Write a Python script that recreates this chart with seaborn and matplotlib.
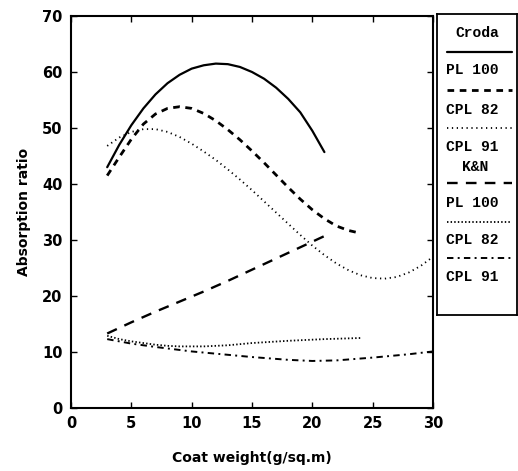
import numpy as np
import pandas as pd
import matplotlib
matplotlib.use("Agg")
import matplotlib.pyplot as plt
import seaborn as sns

# ---- data ----
croda_pl100_x = [3, 4, 5, 6, 7, 8, 9, 10, 11, 12, 13, 14, 15, 16, 17, 18, 19, 20, 21]
croda_pl100_y = [43.0, 47.0, 50.5, 53.5, 56.0, 58.0, 59.5, 60.6, 61.2, 61.5, 61.4, 60.9,
                 60.0, 58.8, 57.2, 55.2, 52.8, 49.5, 45.7]

croda_cpl82_x = [3, 4, 5, 6, 7, 8, 9, 10, 11, 12, 13, 14, 15, 16, 17, 18, 19, 20, 21, 22, 23, 24]
croda_cpl82_y = [41.5, 44.8, 48.0, 50.7, 52.5, 53.5, 53.8, 53.5, 52.6, 51.3, 49.7, 47.9,
                 45.9, 43.8, 41.6, 39.4, 37.3, 35.4, 33.8, 32.5, 31.7, 31.2]

croda_cpl91_x = [3, 4, 5, 6, 7, 8, 9, 10, 11, 12, 13, 14, 15, 16, 17, 18, 19, 20, 21, 22,
                 23, 24, 25, 26, 27, 28, 29, 30]
croda_cpl91_y = [46.8, 48.3, 49.3, 49.8, 49.8, 49.3, 48.4, 47.2, 45.8, 44.3, 42.6, 40.8,
                 38.9, 36.9, 34.9, 32.9, 30.9, 29.0, 27.3, 25.8, 24.6, 23.7, 23.2, 23.1,
                 23.4, 24.2, 25.4, 27.0]

kn_pl100_x = [3, 5, 7, 9, 11, 13, 15, 17, 19, 21]
kn_pl100_y = [13.3, 15.3, 17.2, 19.0, 20.8, 22.7, 24.7, 26.7, 28.7, 30.7]

kn_cpl82_x = [3, 4, 5, 6, 7, 8, 9, 10, 11, 12, 13, 15, 18, 21, 24]
kn_cpl82_y = [12.9, 12.3, 11.9, 11.6, 11.3, 11.1, 11.0, 11.0, 11.0, 11.1, 11.2, 11.6, 12.0, 12.3, 12.5]

kn_cpl91_x = [3, 4, 5, 7, 10, 13, 15, 18, 20, 22, 25, 28, 30]
kn_cpl91_y = [12.3, 11.9, 11.5, 10.9, 10.1, 9.5, 9.1, 8.6, 8.4, 8.5, 9.0, 9.6, 10.1]

x_ticks = [0, 5, 10, 15, 20, 25, 30]
y_ticks = [0, 10, 20, 30, 40, 50, 60, 70]

series = [
    ("Croda", "PL 100", croda_pl100_x, croda_pl100_y, None, 1.6),
    ("Croda", "CPL 82", croda_cpl82_x, croda_cpl82_y, (2.4, 2.0), 2.0),
    ("Croda", "CPL 91", croda_cpl91_x, croda_cpl91_y, (0.7, 2.0), 1.3),
    ("K&N", "PL 100", kn_pl100_x, kn_pl100_y, (4.5, 3.5), 1.7),
    ("K&N", "CPL 82", kn_cpl82_x, kn_cpl82_y, (0.8, 1.2), 1.3),
    ("K&N", "CPL 91", kn_cpl91_x, kn_cpl91_y, (3.3, 2.2, 1.0, 2.2), 1.4),
]

sns.set_theme(style="white")
plt.rcParams["font.family"] = ["DejaVu Sans"]
plt.rcParams["text.color"] = "black"
plt.rcParams["axes.labelcolor"] = "black"
plt.rcParams["xtick.color"] = "black"
plt.rcParams["ytick.color"] = "black"

fig = plt.figure(figsize=(5.18, 4.71), dpi=100)
ax = fig.add_axes([71 / 518, 1 - 408 / 471, (433 - 71) / 518, (408 - 16) / 471])

for grp, name, xs, ys, dash, lw in series:
    df = pd.DataFrame({"x": xs, "y": ys})
    sns.lineplot(data=df, x="x", y="y", ax=ax, color="black", lw=lw,
                 estimator=None, sort=True)
    l = ax.lines[-1]
    if dash is not None:
        l.set_dashes(dash)

ax.set_xlim(0, 30)
ax.set_ylim(0, 70)
ax.set_xticks(x_ticks)
ax.set_yticks(y_ticks)
ax.set_xticklabels([str(t) for t in x_ticks], fontweight="bold", fontsize=10.5)
ax.set_yticklabels([str(t) for t in y_ticks], fontweight="bold", fontsize=10.5)
ax.tick_params(direction="in", length=4, width=1, top=True, right=True,
               bottom=True, left=True, colors="black", pad=6)
ax.tick_params(axis="x", labeltop=False)
ax.tick_params(axis="y", labelright=False)
for s in ax.spines.values():
    s.set_color("black")
    s.set_linewidth(1.5)
ax.set_xlabel("Coat weight(g/sq.m)", fontweight="bold", fontsize=10, labelpad=14, color="black")
ax.set_ylabel("Absorption ratio", fontweight="bold", fontsize=10, labelpad=8, color="black")

# ---- custom legend box ----
lax = fig.add_axes([437 / 518, 1 - 315 / 471, (517 - 437) / 518, (315 - 14) / 471])
lax.set_xlim(437, 517)
lax.set_ylim(315, 14)
lax.set_xticks([])
lax.set_yticks([])
for s in lax.spines.values():
    s.set_color("black")
    s.set_linewidth(1.3)

mono = dict(family="Liberation Mono", fontweight="bold", fontsize=10.5, color="black")
lax.text(477, 33, "Croda", ha="center", va="center", **mono)
lax.text(475, 167, "K&N", ha="center", va="center", **mono)
line_y = [52, 90, 128, 183, 222, 258]
text_y = [70, 110, 147, 203, 240, 277]
for (grp, name, xs, ys, dash, lw), ly, ty in zip(series, line_y, text_y):
    ll, = lax.plot([447, 512], [ly, ly], color="black", lw=lw)
    if dash is not None:
        ll.set_dashes(dash)
    lax.text(446, ty, name, ha="left", va="center", **mono)

fig.savefig("out.png", dpi=100)
